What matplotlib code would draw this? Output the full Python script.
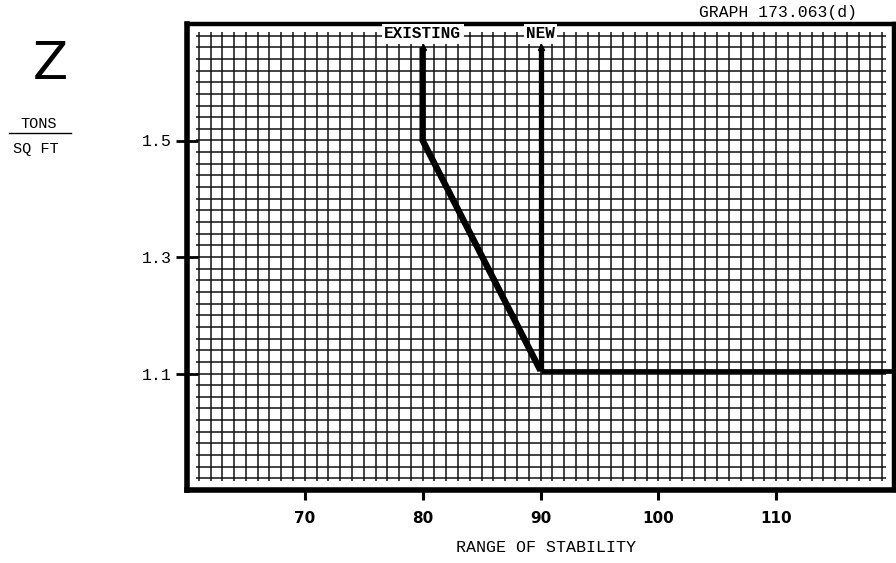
import matplotlib
matplotlib.use("Agg")
import matplotlib.pyplot as plt
import numpy as np

# ---- data ----
existing_x = [80, 80, 90, 120]
existing_y = [1.66, 1.50, 1.105, 1.105]
new_x = [90, 90]
new_y = [1.105, 1.66]
x_ticks = [70, 80, 90, 100, 110]
y_ticks = [1.1, 1.3, 1.5]
y_tick_labels = ["1.1", "1.3", "1.5"]

MONO = "Liberation Mono"

fig = plt.figure(figsize=(8.96, 5.63), dpi=100)
ax = fig.add_axes([187/896, 1-490/563, (894-187)/896, (490-24)/563])
ax.set_xlim(60, 120)
ax.set_ylim(0.90, 1.70)

# fine graph-paper grid
gx = np.arange(61, 120, 1)
gy = np.arange(0.92, 1.6801, 0.02)
ax.vlines(gx, 0.915, 1.686, colors="#111111", linewidth=1.1, zorder=1)
ax.hlines(gy, 60.8, 119.3, colors="#111111", linewidth=1.1, zorder=1)

# curves
ax.plot(existing_x[:3], existing_y[:3], color="black", linewidth=4.6,
        solid_joinstyle="miter", solid_capstyle="butt", zorder=3)
ax.plot(existing_x[2:], existing_y[2:], color="black", linewidth=3.4,
        solid_capstyle="butt", zorder=3)
ax.plot(new_x, new_y, color="black", linewidth=3.8,
        solid_capstyle="butt", zorder=3)
ax.plot([existing_x[0], new_x[-1]], [existing_y[0], new_y[-1]], linestyle="none",
        marker="^", markersize=5, color="black", zorder=3)

# labels on curves
bb = dict(boxstyle="square,pad=0.15", facecolor="white", edgecolor="none")
ax.text(80, 1.683, "EXISTING", family=MONO, fontweight="bold", fontsize=11.5,
        ha="center", va="center", bbox=bb, zorder=4)
ax.text(90, 1.683, "NEW", family=MONO, fontweight="bold", fontsize=11.5,
        ha="center", va="center", bbox=bb, zorder=4)

# frame
for s in ["left", "bottom"]:
    ax.spines[s].set_linewidth(4.0)
for s in ["top", "right"]:
    ax.spines[s].set_linewidth(3.2)

ax.set_xticks(x_ticks)
ax.set_xticklabels([str(v) for v in x_ticks], fontsize=11, fontweight="bold",
                   family="DejaVu Sans")
ax.tick_params(axis="x", direction="out", length=7, width=2.2, pad=8)
ax.set_yticks(y_ticks)
ax.set_yticklabels(y_tick_labels, fontsize=12, family=MONO)
ax.tick_params(axis="y", direction="inout", length=16, width=2.0, pad=3)

fig.text(546/896, 1-548/563, "RANGE OF STABILITY", family=MONO, fontsize=12,
         ha="center", va="center")
fig.text(778/896, 1-13/563, "GRAPH 173.063(d)", family=MONO, fontsize=11.8,
         ha="center", va="center")

fig.text(50/896, 1-65/563, "Z", family="DejaVu Sans", fontsize=37,
         ha="center", va="center")
fig.text(39/896, 1-124/563, "TONS", family=MONO, fontsize=11,
         ha="center", va="center")
fig.lines.append(plt.Line2D([9/896, 71/896], [1-133/563, 1-133/563],
                            color="black", linewidth=1.0, transform=fig.transFigure))
fig.text(36/896, 1-149/563, "SQ FT", family=MONO, fontsize=11,
         ha="center", va="center")

fig.savefig("out.png", dpi=100)
